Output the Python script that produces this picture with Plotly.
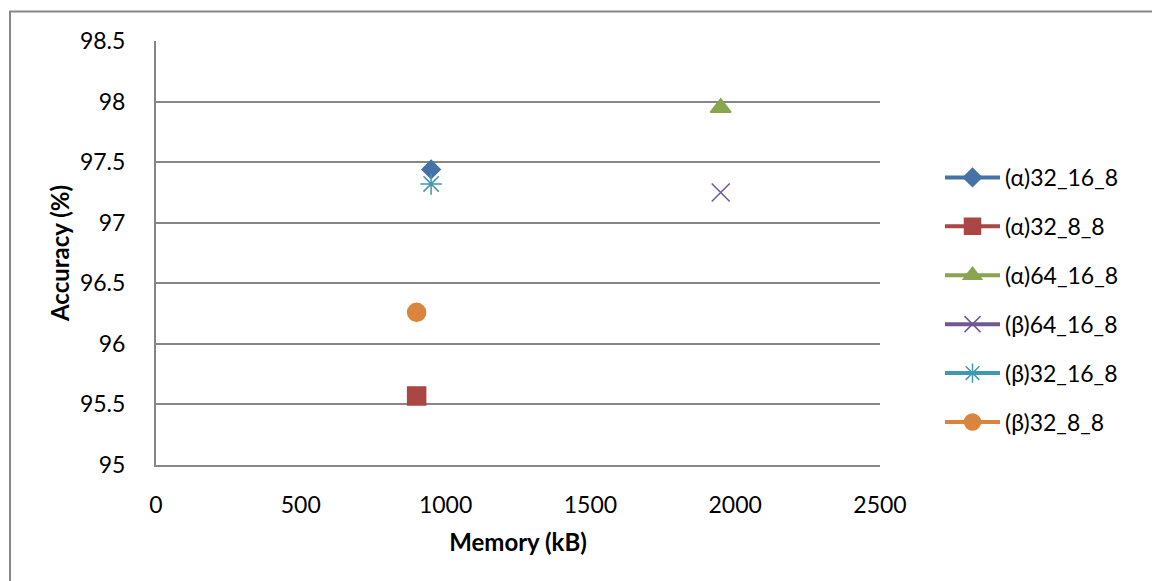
import plotly.graph_objects as go

# Memory footprint (kB) and accuracy (%) for each network configuration
series_names = ["(α)32_16_8", "(α)32_8_8", "(α)64_16_8", "(β)64_16_8", "(β)32_16_8", "(β)32_8_8"]
memory_kb = [950, 900, 1950, 1950, 950, 900]
accuracy_pct = [97.44, 95.57, 97.95, 97.25, 97.32, 96.26]
x_ticks = [0, 500, 1000, 1500, 2000, 2500]
y_ticks = [95, 95.5, 96, 96.5, 97, 97.5, 98, 98.5]

colors = ["#4572A7", "#AA4643", "#89A54E", "#71588F", "#4198AF", "#DB843D"]
symbols = ["diamond", "square", "triangle-up", "x-thin-open", "asterisk-open", "circle"]
sizes = [14, 18, 18, 18, 18, 18]

W, H = 1152, 581
L, R, T, B = 156, 880, 41, 465

fig = go.Figure()
for i, (name, mx, acc, col, sym, sz) in enumerate(zip(series_names, memory_kb, accuracy_pct, colors, symbols, sizes)):
    fig.add_trace(go.Scatter(
        x=[mx], y=[acc], name=name, mode="lines+markers", legendgroup=f"g{i}",
        line=dict(color=col, width=4),
        marker=dict(symbol=sym, size=sz, color=col, line=dict(color=col, width=1.5)),
    ))

font = "Lato, 'Open Sans', sans-serif"

fig.update_layout(
    width=W, height=H,
    margin=dict(l=L, r=W - R, t=T, b=H - B),
    paper_bgcolor="white", plot_bgcolor="white",
    font=dict(family=font, size=23, color="black"),
    showlegend=True,
    legend=dict(x=(940 - L) / (R - L), xanchor="left", y=(B - 300) / (B - T), yanchor="middle",
                yref="paper", font=dict(size=23), tracegroupgap=16, itemwidth=55,
                bgcolor="rgba(0,0,0,0)"),
    xaxis=dict(range=[0, 2500], tickvals=x_ticks, ticktext=[str(v) for v in x_ticks],
               showgrid=False, zeroline=False, showline=True, linecolor="#868686", linewidth=2,
               ticks="", ticklabelstandoff=18, tickfont=dict(size=23),
               title=dict(text="<b>Memory (kB)</b>", font=dict(size=24), standoff=18)),
    yaxis=dict(range=[95, 98.5], tickvals=y_ticks, ticktext=["95", "95.5", "96", "96.5", "97", "97.5", "98", "98.5"],
               showgrid=True, gridcolor="#868686", gridwidth=2, zeroline=False,
               showline=True, linecolor="#868686", linewidth=2, ticks="",
               ticklabelstandoff=24, tickfont=dict(size=23),
               title=dict(text="<b>Accuracy (%)</b>", font=dict(size=24), standoff=4)),
    shapes=[dict(type="rect", xref="paper", yref="paper",
                 x0=(10 - L) / (R - L), x1=(1160 - L) / (R - L),
                 y0=(B - 590) / (B - T), y1=(B - 11.5) / (B - T),
                 line=dict(color="#868686", width=2), fillcolor="rgba(0,0,0,0)", layer="below")],
)

fig.write_html("out.html")
